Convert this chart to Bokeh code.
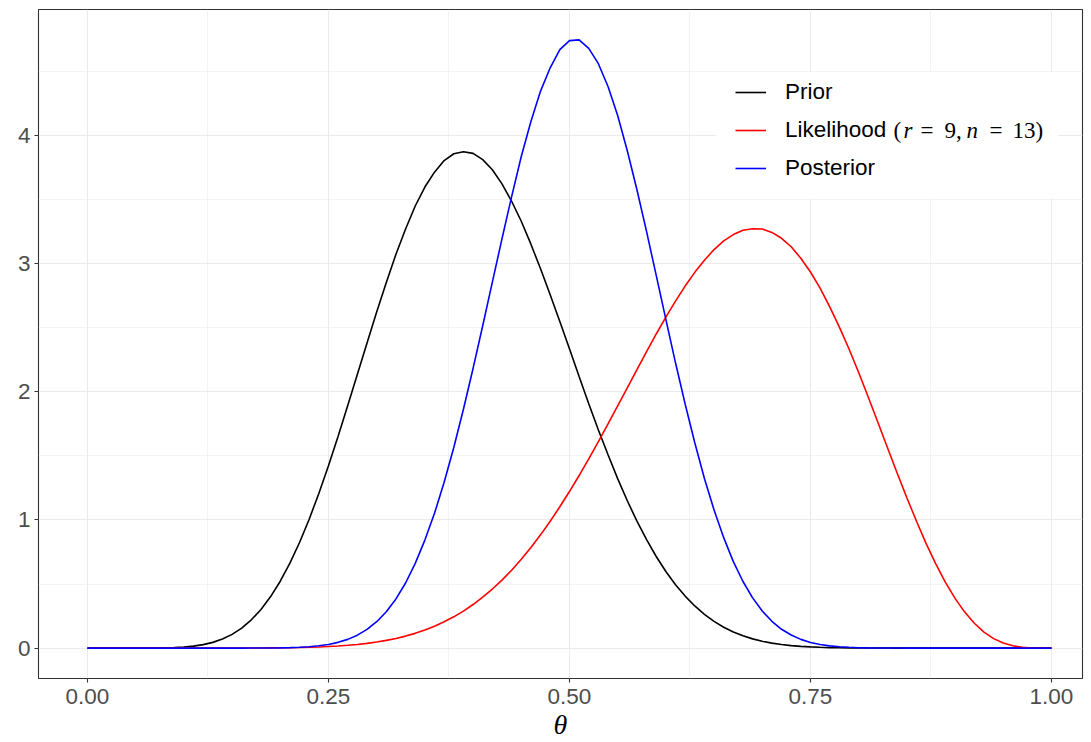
from bokeh.plotting import figure
from bokeh.models import (ColumnDataSource, FixedTicker, Legend, LegendItem, Label,
                          BoxAnnotation, Range1d, NumeralTickFormatter)
from bokeh.embed import file_html
from bokeh.resources import INLINE

# ---------------- data ----------------
theta = [0.00, 0.01, 0.02, 0.03, 0.04, 0.05, 0.06, 0.07, 0.08, 0.09,
         0.10, 0.11, 0.12, 0.13, 0.14, 0.15, 0.16, 0.17, 0.18, 0.19,
         0.20, 0.21, 0.22, 0.23, 0.24, 0.25, 0.26, 0.27, 0.28, 0.29,
         0.30, 0.31, 0.32, 0.33, 0.34, 0.35, 0.36, 0.37, 0.38, 0.39,
         0.40, 0.41, 0.42, 0.43, 0.44, 0.45, 0.46, 0.47, 0.48, 0.49,
         0.50, 0.51, 0.52, 0.53, 0.54, 0.55, 0.56, 0.57, 0.58, 0.59,
         0.60, 0.61, 0.62, 0.63, 0.64, 0.65, 0.66, 0.67, 0.68, 0.69,
         0.70, 0.71, 0.72, 0.73, 0.74, 0.75, 0.76, 0.77, 0.78, 0.79,
         0.80, 0.81, 0.82, 0.83, 0.84, 0.85, 0.86, 0.87, 0.88, 0.89,
         0.90, 0.91, 0.92, 0.93, 0.94, 0.95, 0.96, 0.97, 0.98, 0.99,
         1.00]

prior = [0.0, 0.0, 0.0, 0.0, 0.0, 0.0, 0.0002, 0.0007, 0.0017, 0.0039,
         0.008, 0.0152, 0.027, 0.0446, 0.071, 0.107, 0.156, 0.221, 0.301, 0.402,
         0.522, 0.663, 0.824, 1.006, 1.207, 1.424, 1.653, 1.894, 2.137, 2.381,
         2.623, 2.854, 3.074, 3.272, 3.451, 3.599, 3.715, 3.806, 3.859, 3.875,
         3.862, 3.813, 3.734, 3.624, 3.488, 3.332, 3.153, 2.961, 2.758, 2.549,
         2.336, 2.120, 1.907, 1.703, 1.509, 1.323, 1.150, 0.991, 0.846, 0.715,
         0.598, 0.495, 0.406, 0.329, 0.263, 0.209, 0.163, 0.126, 0.096, 0.072,
         0.053, 0.039, 0.028, 0.0195, 0.0134, 0.0091, 0.006, 0.0039, 0.0024, 0.0015,
         0.0009, 0.0005, 0.0003, 0.0002, 0.0001, 0.0, 0.0, 0.0, 0.0, 0.0,
         0.0, 0.0, 0.0, 0.0, 0.0, 0.0, 0.0, 0.0, 0.0, 0.0,
         0.0]

likelihood = [0.0, 0.0, 0.0, 0.0, 0.0, 0.0, 0.0, 0.0, 0.0, 0.0,
              0.0, 0.0, 0.0, 0.0, 0.0001, 0.0002, 0.0003, 0.0006, 0.0009, 0.0014,
              0.0021, 0.0031, 0.0045, 0.0063, 0.0088, 0.0121, 0.0163, 0.0217, 0.0284, 0.0369,
              0.0473, 0.0600, 0.0753, 0.0936, 0.115, 0.141, 0.171, 0.205, 0.244, 0.289,
              0.340, 0.397, 0.461, 0.531, 0.608, 0.693, 0.785, 0.884, 0.990, 1.103,
              1.222, 1.347, 1.477, 1.611, 1.750, 1.891, 2.032, 2.173, 2.314, 2.452,
              2.583, 2.708, 2.826, 2.933, 3.028, 3.111, 3.179, 3.228, 3.262, 3.274,
              3.271, 3.245, 3.199, 3.133, 3.043, 2.936, 2.810, 2.664, 2.505, 2.335,
              2.151, 1.958, 1.761, 1.562, 1.365, 1.174, 0.990, 0.815, 0.657, 0.513,
              0.388, 0.281, 0.194, 0.125, 0.074, 0.039, 0.018, 0.006, 0.001, 0.0001,
              0.0]

posterior = [0.0, 0.0, 0.0, 0.0, 0.0, 0.0, 0.0, 0.0, 0.0, 0.0,
             0.0, 0.0, 0.0, 0.0, 0.0, 0.0, 0.0001, 0.0002, 0.0005, 0.0009,
             0.0018, 0.0034, 0.0061, 0.0106, 0.0177, 0.0286, 0.0448, 0.068, 0.101, 0.146,
             0.206, 0.284, 0.384, 0.508, 0.661, 0.843, 1.052, 1.294, 1.566, 1.864,
             2.183, 2.516, 2.857, 3.195, 3.524, 3.837, 4.111, 4.348, 4.530, 4.672,
             4.742, 4.748, 4.681, 4.562, 4.384, 4.157, 3.882, 3.578, 3.251, 2.909,
             2.566, 2.227, 1.905, 1.603, 1.324, 1.078, 0.862, 0.675, 0.520, 0.392,
             0.289, 0.209, 0.147, 0.102, 0.068, 0.044, 0.028, 0.017, 0.010, 0.006,
             0.003, 0.0017, 0.0008, 0.0004, 0.0002, 0.0001, 0.0, 0.0, 0.0, 0.0,
             0.0, 0.0, 0.0, 0.0, 0.0, 0.0, 0.0, 0.0, 0.0, 0.0,
             0.0]

series_names = ["Prior", "Likelihood", "Posterior"]
series_colors = ["black", "red", "blue"]
x_ticks = [0.0, 0.25, 0.5, 0.75, 1.0]
x_minor = [0.125, 0.375, 0.625, 0.875]
y_ticks = [0, 1, 2, 3, 4]
y_minor = [0.5, 1.5, 2.5, 3.5, 4.5]

source = ColumnDataSource(dict(theta=theta, prior=prior,
                               likelihood=likelihood, posterior=posterior))

# ---------------- figure ----------------
W, H = 1091, 742
ML, MR, MT, MB = 38, 9, 9, 64
FH = H - MT - MB

p = figure(width=W, height=H, output_backend="svg", toolbar_location=None,
           x_range=Range1d(-0.0508, 1.0322), y_range=Range1d(-0.2374, 4.985),
           min_border_left=ML, min_border_right=MR, min_border_top=MT,
           min_border_bottom=MB)
p.background_fill_color = "white"
p.border_fill_color = "white"
p.outline_line_color = "#333333"
p.outline_line_width = 1.1

p.xaxis.ticker = FixedTicker(ticks=x_ticks, minor_ticks=x_minor)
p.yaxis.ticker = FixedTicker(ticks=y_ticks, minor_ticks=y_minor)
p.xaxis.formatter = NumeralTickFormatter(format="0.00")
p.yaxis.formatter = NumeralTickFormatter(format="0")

for ax in (p.xaxis, p.yaxis):
    ax.axis_line_color = None
    ax.major_tick_line_color = "#333333"
    ax.major_tick_line_width = 1.1
    ax.major_tick_out = 4
    ax.major_tick_in = 0
    ax.minor_tick_line_color = None
    ax.major_label_text_font = "Liberation Sans"
    ax.major_label_text_font_size = "22.5px"
    ax.major_label_text_color = "#4D4D4D"
    ax.major_label_standoff = 4
p.xaxis.major_label_standoff = 6

p.xaxis.axis_label = "θ"
p.xaxis.axis_label_text_font = "Liberation Serif"
p.xaxis.axis_label_text_font_style = "italic"
p.xaxis.axis_label_text_font_size = "28px"
p.xaxis.axis_label_text_color = "black"
p.xaxis.axis_label_standoff = 2

for g in (p.xgrid, p.ygrid):
    g.grid_line_color = "#EBEBEB"
    g.grid_line_width = 1.1
    g.minor_grid_line_color = "#EBEBEB"
    g.minor_grid_line_width = 0.6

renderers = []
for col, color in zip(["prior", "likelihood", "posterior"], series_colors):
    r = p.line("theta", col, source=source, line_color=color, line_width=1.6)
    renderers.append(r)

# legend background
p.add_layout(BoxAnnotation(left=716 - ML, right=1058 - ML,
                           top=FH + MT - 72, bottom=FH + MT - 198,
                           left_units="screen", right_units="screen",
                           top_units="screen", bottom_units="screen",
                           fill_color="white", fill_alpha=1.0, line_color=None))

legend = Legend(items=[LegendItem(label=n, renderers=[r])
                       for n, r in zip(series_names, renderers)],
                location=(725 - ML, FH + MT - 191),
                glyph_width=31, glyph_height=26, label_height=26,
                label_standoff=19, spacing=12, padding=10, margin=0,
                background_fill_alpha=0, border_line_alpha=0,
                label_text_font="Liberation Sans", label_text_font_size="22.5px",
                label_text_color="black")
p.add_layout(legend)

# math part of the likelihood legend entry: (r = 9, n = 13)
ly = FH + MT - 130
pieces = [("(", 893, "normal"), ("r", 903, "italic"), ("=", 920, "normal"),
          ("9,", 944, "normal"), ("n", 966, "italic"), ("=", 989, "normal"),
          ("13)", 1012, "normal")]
for txt, px, style in pieces:
    p.add_layout(Label(x=px - ML, y=ly, x_units="screen", y_units="screen",
                       text=txt, text_font="Liberation Serif",
                       text_font_style=style, text_font_size="23px",
                       text_align="left", text_baseline="middle",
                       text_color="black"))

open("out.html", "w").write(file_html(p, INLINE))
